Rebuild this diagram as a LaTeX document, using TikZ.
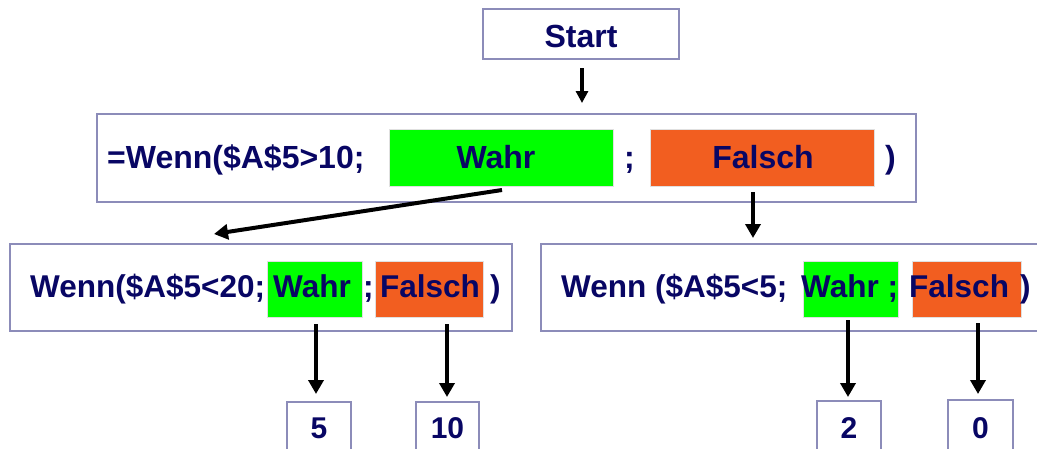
\documentclass[tikz,border=0pt]{standalone}
\usepackage{fontspec}
\setmainfont{Liberation Sans}
\usetikzlibrary{arrows.meta}
\definecolor{navy}{RGB}{8,6,100}
\definecolor{boxline}{RGB}{140,140,185}
\definecolor{wgreen}{RGB}{0,255,0}
\definecolor{forange}{RGB}{242,94,32}
\tikzset{
  frame/.style={draw=boxline, line width=1.3pt, rectangle, inner sep=0pt},
  greenbox/.style={fill=wgreen, draw=black!12, line width=0.8pt, rectangle, inner sep=0pt},
  orangebox/.style={fill=forange, draw=black!12, line width=0.8pt, rectangle, inner sep=0pt},
  txt/.style={text=navy, font=\bfseries\fontsize{31.5}{36}\selectfont, inner sep=0pt},
  bigtxt/.style={text=navy, font=\bfseries\fontsize{32}{36}\selectfont, inner sep=0pt},
  numtxt/.style={text=navy, font=\bfseries\fontsize{30}{36}\selectfont, inner sep=0pt, anchor=base},
  arr/.style={draw=black, line width=4pt, -{Triangle[length=14pt,width=15pt]}},
  smallarr/.style={draw=black, line width=3.2pt, -{Triangle[length=12pt,width=12pt]}}
}
\begin{document}
\begin{tikzpicture}[x=1pt,y=-1pt]
\clip (0,0) rectangle (1037,448);
\fill[white] (0,0) rectangle (1037,448);
% boxes
\node[frame, minimum width=196pt, minimum height=50pt] (start) at (581,34) {};
\node[bigtxt, anchor=base] (starttxt) at (581,47) {Start};
\node[frame, minimum width=819pt, minimum height=88pt] (main) at (506.5,158) {};
\node[greenbox, minimum width=224pt, minimum height=57pt] (w0) at (501,157.5) {};
\node[orangebox, minimum width=224pt, minimum height=57pt] (f0) at (762,157.5) {};
\node[bigtxt, anchor=base west] (t0) at (107,168) {=Wenn(\$A\$5>10;};
\node[bigtxt, anchor=base] (tw0) at (496,168) {Wahr};
\node[bigtxt, anchor=base west] (ts0) at (624,168) {;};
\node[bigtxt, anchor=base] (tf0) at (763,168) {Falsch};
\node[bigtxt, anchor=base west] (tc0) at (885,168) {)};

\node[frame, minimum width=502pt, minimum height=87pt] (left) at (261,287.5) {};
\node[greenbox, minimum width=95pt, minimum height=56pt] (w1) at (314.5,289) {};
\node[orangebox, minimum width=108pt, minimum height=56pt] (f1) at (429,289) {};
\node[txt, anchor=base west] (t1) at (30,297) {Wenn(\$A\$5<20;};
\node[txt, anchor=base west] (tw1) at (273,297) {Wahr};
\node[txt, anchor=base west] (ts1) at (363,297) {;};
\node[txt, anchor=base west] (tf1) at (380,297) {Falsch};
\node[txt, anchor=base west] (tc1) at (490,297) {)};

\node[frame, minimum width=504pt, minimum height=87pt] (right) at (793,287.5) {};
\node[greenbox, minimum width=95pt, minimum height=56pt] (w2) at (850.5,289) {};
\node[orangebox, minimum width=109pt, minimum height=56pt] (f2) at (966.5,289) {};
\node[txt, anchor=base west] (t2) at (561,297) {Wenn (\$A\$5<5;};
\node[txt, anchor=base west] (tw2) at (801,297) {Wahr ;};
\node[txt, anchor=base west] (tf2) at (909,297) {Falsch};
\node[txt, anchor=base west] (tc2) at (1020,297) {)};

\node[frame, minimum width=64pt, minimum height=68pt] (n5) at (319,436) {};
\node[numtxt] (t5) at (319,438) {5};
\node[frame, minimum width=63pt, minimum height=68pt] (n10) at (447.5,436) {};
\node[numtxt] (t10) at (447.5,438) {10};
\node[frame, minimum width=64pt, minimum height=69pt] (n2) at (849,435.5) {};
\node[numtxt] (t2n) at (849,438) {2};
\node[frame, minimum width=65pt, minimum height=70pt] (n0) at (980.5,435) {};
\node[numtxt] (t0n) at (980.5,438) {0};

% connectors
\coordinate (a0) at (582,68);
\coordinate (a1) at (582,103);
\draw[smallarr] (a0) -- (a1);
\coordinate (b0) at (502,190);
\coordinate (b1) at (214,234);
\draw[arr] (b0) -- (b1);
\coordinate (c0) at (753,192);
\coordinate (c1) at (753,238);
\draw[arr] (c0) -- (c1);
\coordinate (d0) at (316,324);
\coordinate (d1) at (316,394);
\draw[arr] (d0) -- (d1);
\coordinate (e0) at (447,324);
\coordinate (e1) at (447,397);
\draw[arr] (e0) -- (e1);
\coordinate (g0) at (848,320);
\coordinate (g1) at (848,397);
\draw[arr] (g0) -- (g1);
\coordinate (h0) at (978,323);
\coordinate (h1) at (978,394);
\draw[arr] (h0) -- (h1);
\end{tikzpicture}
\end{document}
